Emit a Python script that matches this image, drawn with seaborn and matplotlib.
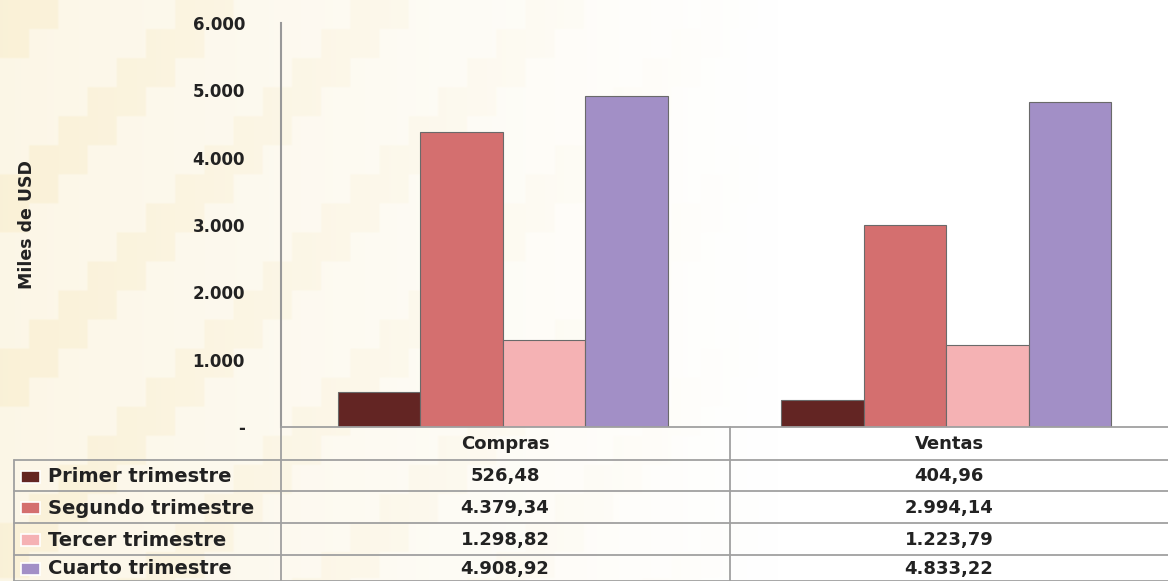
import matplotlib.pyplot as plt
import matplotlib.colors as mcolors
import numpy as np
import seaborn as sns
import pandas as pd
from matplotlib.lines import Line2D
from matplotlib.patches import Rectangle

# Data
categorias = ['Compras', 'Ventas']
trimestres = ['Primer trimestre', 'Segundo trimestre', 'Tercer trimestre', 'Cuarto trimestre']
compras = [526.48, 4379.34, 1298.82, 4908.92]
ventas = [404.96, 2994.14, 1223.79, 4833.22]
etiquetas_compras = ['526,48', '4.379,34', '1.298,82', '4.908,92']
etiquetas_ventas = ['404,96', '2.994,14', '1.223,79', '4.833,22']
yticks = [0, 1000, 2000, 3000, 4000, 5000, 6000]
ytick_labels = ['-', '1.000', '2.000', '3.000', '4.000', '5.000', '6.000']
colores = ['#632523', '#D46F6F', '#F5B2B4', '#A28FC6']

df = pd.DataFrame({
    'categoria': np.repeat(categorias, len(trimestres)),
    'trimestre': trimestres * len(categorias),
    'valor': compras + ventas,
})

sns.set_style('white')
plt.rcParams['font.family'] = ['DejaVu Sans']

W, H = 1168, 581
fig = plt.figure(figsize=(W / 100, H / 100), dpi=100)

# soft warm background with a stepped pattern, stronger on the left
bg = fig.add_axes([0, 0, 1, 1], zorder=-10)
xx = np.linspace(0, 1, 400)
yy = np.linspace(0, 1, 200)
X, Y = np.meshgrid(xx, yy)
steps = (np.floor(X * 40) + np.floor(Y * 20)) % 6
alpha = np.clip(1 - X * 1.5, 0, 1) * (0.22 + 0.14 * (steps < 2))
warm = np.array(mcolors.to_rgb('#F1D890'))
img = np.ones((200, 400, 3)) * (1 - alpha[..., None]) + warm * alpha[..., None]
bg.imshow(img, aspect='auto', extent=[0, 1, 0, 1])
bg.axis('off')

def fx(px):
    return px / W

def fy(py):
    return 1 - py / H

ax = fig.add_axes([fx(281), fy(427), fx(1168) - fx(281), fy(23) - fy(427)])
ax.patch.set_alpha(0)
sns.barplot(data=df, x='categoria', y='valor', hue='trimestre', hue_order=trimestres,
            palette=colores, saturation=1, width=0.745, ax=ax, legend=False,
            edgecolor='#6a6a6a', linewidth=0.8, errorbar=None)
ax.set_xlim(-0.5, 1.5)
ax.set_ylim(0, 6000)
ax.set_yticks(yticks)
ax.set_yticklabels(ytick_labels, fontsize=12, fontweight='bold', color='#222222')
ax.tick_params(axis='y', length=0, pad=26)
ax.set_xticks([])
ax.set_xlabel('')
ax.set_ylabel('')
for s in ['top', 'right', 'bottom']:
    ax.spines[s].set_visible(False)
ax.spines['left'].set_color('#999999')
ax.spines['left'].set_linewidth(1.5)

fig.text(fx(27), fy(225), 'Miles de USD', rotation=90, ha='center', va='center',
         fontsize=12.5, fontweight='bold', color='#222222')

# data table
lc = '#A0A0A0'
def hline(y, x0, x1):
    fig.add_artist(Line2D([fx(x0), fx(x1)], [fy(y), fy(y)], color=lc, lw=1.3))

def vline(x, y0, y1):
    fig.add_artist(Line2D([fx(x), fx(x)], [fy(y0), fy(y1)], color=lc, lw=1.3))

row_lines = [427, 460, 491, 523, 555, 581]
hline(427, 281, 1168)
for y in row_lines[1:]:
    hline(y, 14, 1168)
vline(14, 460, 581)
vline(281, 427, 581)
vline(730, 427, 581)

col_x = [505, 949]
tkw = dict(ha='center', va='center', fontsize=13, fontweight='bold', color='#222222')
for cx, cat in zip(col_x, categorias):
    fig.text(fx(cx), fy(444), cat, **tkw)

for i, tri in enumerate(trimestres):
    yc = (row_lines[i + 1] + row_lines[i + 2]) / 2 + 1
    fig.add_artist(Rectangle((fx(21), fy(yc + 6)), fx(19), fy(0) - fy(12),
                             facecolor=colores[i], edgecolor='white', lw=1.2))
    fig.text(fx(48), fy(yc), tri, ha='left', va='center', fontsize=14,
             fontweight='bold', color='#222222')
    fig.text(fx(col_x[0]), fy(yc), etiquetas_compras[i], **tkw)
    fig.text(fx(col_x[1]), fy(yc), etiquetas_ventas[i], **tkw)

fig.savefig('out.png', dpi=100)
